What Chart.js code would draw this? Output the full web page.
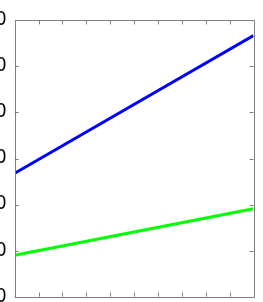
<!DOCTYPE html>
<html lang="en">
<head>
  <meta charset="UTF-8">
  <title>Two lines</title>
  <script src="https://cdn.jsdelivr.net/npm/chart.js"></script>
  <style>
    body { margin: 0; background: #ffffff; overflow: hidden; width: 263px; height: 302px; }
    .chart-container { position: relative; width: 300px; height: 330px; }
  </style>
</head>
<body>
  <div class="chart-container" id="box">
    <canvas id="lineChart"></canvas>
  </div>
  <script>
    // data
    const xValues = [0, 10];
    const blueValues = [26.8, 56.7];
    const greenValues = [9.0, 19.1];
    const yTickLabels = ['0', '10', '20', '30', '40', '50', '60'];

    const axisColor = '#808080';
    // where the plot box sits in the 263x302 window (labels are cut off on the left)
    const plotBox = { left: 15, top: 20, right: 255, bottom: 297 };

    // box round the plot plus inward tick marks on all four sides
    const boxTicksPlugin = {
      id: 'boxTicks',
      afterDatasetsDraw: (chart) => {
        const { ctx, chartArea, scales } = chart;
        const { left, right, top, bottom } = chartArea;
        const len = 4;
        ctx.save();
        ctx.strokeStyle = axisColor;
        ctx.lineWidth = 1;
        ctx.beginPath();
        ctx.rect(Math.round(left) + 0.5, Math.round(top) + 0.5,
                 Math.round(right) - Math.round(left), Math.round(bottom) - Math.round(top));
        scales.y.ticks.forEach(t => {
          const y = Math.round(scales.y.getPixelForValue(t.value)) + 0.5;
          ctx.moveTo(left, y); ctx.lineTo(left + len, y);
          ctx.moveTo(right, y); ctx.lineTo(right - len, y);
        });
        scales.x.ticks.forEach(t => {
          const x = Math.round(scales.x.getPixelForValue(t.value)) + 0.5;
          ctx.moveTo(x, bottom); ctx.lineTo(x, bottom - len);
          ctx.moveTo(x, top); ctx.lineTo(x, top + len);
        });
        ctx.stroke();
        ctx.restore();
      }
    };

    const ctx = document.getElementById('lineChart').getContext('2d');
    const chart = new Chart(ctx, {
      type: 'line',
      data: {
        datasets: [
          {
            label: 'blue',
            data: xValues.map((x, i) => ({ x: x, y: blueValues[i] })),
            borderColor: '#0000ff',
            borderWidth: 3,
            pointRadius: 0,
          },
          {
            label: 'green',
            data: xValues.map((x, i) => ({ x: x, y: greenValues[i] })),
            borderColor: '#00ff00',
            borderWidth: 3,
            pointRadius: 0,
          }
        ]
      },
      options: {
        responsive: true,
        maintainAspectRatio: false,
        animation: false,
        plugins: { legend: { display: false }, tooltip: { enabled: false } },
        scales: {
          x: {
            type: 'linear',
            min: 0,
            max: 10,
            ticks: { display: false, stepSize: 1 },
            grid: { display: false, drawTicks: false },
            border: { display: false },
          },
          y: {
            min: 0,
            max: 60,
            ticks: {
              stepSize: 10,
              padding: 8,
              color: '#000000',
              font: { family: "'Liberation Sans Narrow', 'DejaVu Sans Condensed', 'Liberation Sans', sans-serif", size: 19 },
              callback: (value, index) => yTickLabels[index],
            },
            grid: { display: false, drawTicks: false },
            border: { display: false },
          },
        },
      },
      plugins: [boxTicksPlugin],
    });

    // shift / resize the canvas so the plot box lands where it is in the reference
    const box = document.getElementById('box');
    const ca = chart.chartArea;
    const dx = Math.round(ca.left - plotBox.left);
    const dy = Math.round(ca.top - plotBox.top);
    const padR = chart.width - ca.right;
    const padB = chart.height - ca.bottom;
    box.style.marginLeft = (-dx) + 'px';
    box.style.marginTop = (-dy) + 'px';
    box.style.width = Math.round(plotBox.right + dx + padR) + 'px';
    box.style.height = Math.round(plotBox.bottom + dy + padB) + 'px';
    chart.resize();
  </script>
</body>
</html>
